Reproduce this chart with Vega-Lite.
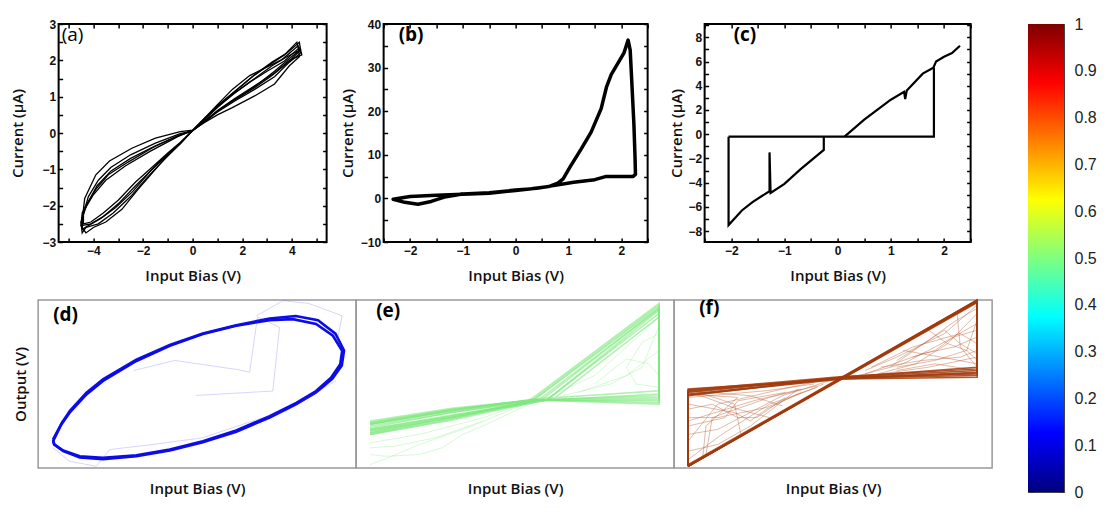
{
"$schema":"https://vega.github.io/schema/vega-lite/v6.json",
"background":"white",
"padding":{"left":9,"top":15,"right":4,"bottom":4},
"config":{
 "axis":{"grid":false,"domain":false,"tickColor":"#000","tickWidth":1.5,"tickSize":-4,"labelPadding":7,"labelFlush":false,"labelOverlap":false,"labelFont":"Liberation Sans","labelFontWeight":"bold","labelFontSize":12,"labelColor":"#111","titleFont":"Open Sans","titleFontWeight":600,"titleFontSize":15,"titleColor":"#111","zindex":1},
 "view":{"stroke":"#000","strokeWidth":2},
 "title":{"font":"Open Sans","fontSize":19,"color":"#000","anchor":"start","frame":"group","baseline":"middle"}
},
"datasets":{
 "a":[
  {"t":1,"i":0,"x":0,"y":0.08},{"t":1,"i":1,"x":0.5,"y":0.3},{"t":1,"i":2,"x":1,"y":0.5},{"t":1,"i":3,"x":1.6,"y":0.7},{"t":1,"i":4,"x":2.5,"y":1.02},{"t":1,"i":5,"x":3.3,"y":1.35},{"t":1,"i":6,"x":3.9,"y":1.85},{"t":1,"i":7,"x":4.3,"y":2.1},{"t":1,"i":8,"x":4.25,"y":2.4},{"t":1,"i":9,"x":3.6,"y":2.02},{"t":1,"i":10,"x":3.0,"y":1.82},{"t":1,"i":11,"x":2.3,"y":1.58},{"t":1,"i":12,"x":1.6,"y":1.2},{"t":1,"i":13,"x":1.0,"y":0.78},{"t":1,"i":14,"x":0.5,"y":0.42},{"t":1,"i":15,"x":0,"y":0.08},{"t":1,"i":16,"x":-0.5,"y":-0.3},{"t":1,"i":17,"x":-1.0,"y":-0.6},{"t":1,"i":18,"x":-1.5,"y":-1.0},{"t":1,"i":19,"x":-2.2,"y":-1.55},{"t":1,"i":20,"x":-2.85,"y":-2.1},{"t":1,"i":21,"x":-3.5,"y":-2.45},{"t":1,"i":22,"x":-4.0,"y":-2.6},{"t":1,"i":23,"x":-4.3,"y":-2.75},{"t":1,"i":24,"x":-4.45,"y":-2.6},{"t":1,"i":25,"x":-4.4,"y":-2.1},{"t":1,"i":26,"x":-4.35,"y":-1.8},{"t":1,"i":27,"x":-3.9,"y":-1.15},{"t":1,"i":28,"x":-3.35,"y":-0.77},{"t":1,"i":29,"x":-2.45,"y":-0.42},{"t":1,"i":30,"x":-1.5,"y":-0.14},{"t":1,"i":31,"x":-0.5,"y":0.04},{"t":1,"i":32,"x":0,"y":0.08},
  {"t":2,"i":0,"x":0,"y":0.06},{"t":2,"i":1,"x":0.5,"y":0.32},{"t":2,"i":2,"x":1,"y":0.58},{"t":2,"i":3,"x":1.7,"y":0.88},{"t":2,"i":4,"x":2.5,"y":1.2},{"t":2,"i":5,"x":3.3,"y":1.55},{"t":2,"i":6,"x":3.9,"y":1.95},{"t":2,"i":7,"x":4.35,"y":2.2},{"t":2,"i":8,"x":4.3,"y":2.35},{"t":2,"i":9,"x":3.7,"y":1.98},{"t":2,"i":10,"x":3.0,"y":1.7},{"t":2,"i":11,"x":2.3,"y":1.4},{"t":2,"i":12,"x":1.6,"y":1.05},{"t":2,"i":13,"x":1.0,"y":0.7},{"t":2,"i":14,"x":0.5,"y":0.38},{"t":2,"i":15,"x":0,"y":0.06},{"t":2,"i":16,"x":-0.5,"y":-0.26},{"t":2,"i":17,"x":-1.0,"y":-0.55},{"t":2,"i":18,"x":-1.6,"y":-0.92},{"t":2,"i":19,"x":-2.3,"y":-1.35},{"t":2,"i":20,"x":-3.0,"y":-1.85},{"t":2,"i":21,"x":-3.6,"y":-2.2},{"t":2,"i":22,"x":-4.1,"y":-2.45},{"t":2,"i":23,"x":-4.4,"y":-2.5},{"t":2,"i":24,"x":-4.4,"y":-2.2},{"t":2,"i":25,"x":-4.2,"y":-1.75},{"t":2,"i":26,"x":-3.8,"y":-1.3},{"t":2,"i":27,"x":-3.3,"y":-0.95},{"t":2,"i":28,"x":-2.5,"y":-0.6},{"t":2,"i":29,"x":-1.5,"y":-0.28},{"t":2,"i":30,"x":-0.5,"y":-0.02},{"t":2,"i":31,"x":0,"y":0.06},
  {"t":3,"i":0,"x":0,"y":0.07},{"t":3,"i":1,"x":0.5,"y":0.34},{"t":3,"i":2,"x":1,"y":0.62},{"t":3,"i":3,"x":1.7,"y":0.95},{"t":3,"i":4,"x":2.5,"y":1.3},{"t":3,"i":5,"x":3.3,"y":1.65},{"t":3,"i":6,"x":3.9,"y":2.0},{"t":3,"i":7,"x":4.4,"y":2.15},{"t":3,"i":8,"x":4.35,"y":2.3},{"t":3,"i":9,"x":3.8,"y":2.1},{"t":3,"i":10,"x":3.2,"y":1.85},{"t":3,"i":11,"x":2.5,"y":1.5},{"t":3,"i":12,"x":1.7,"y":1.1},{"t":3,"i":13,"x":1.0,"y":0.72},{"t":3,"i":14,"x":0.5,"y":0.4},{"t":3,"i":15,"x":0,"y":0.07},{"t":3,"i":16,"x":-0.5,"y":-0.28},{"t":3,"i":17,"x":-1.0,"y":-0.58},{"t":3,"i":18,"x":-1.7,"y":-1.05},{"t":3,"i":19,"x":-2.4,"y":-1.6},{"t":3,"i":20,"x":-3.1,"y":-2.05},{"t":3,"i":21,"x":-3.7,"y":-2.35},{"t":3,"i":22,"x":-4.2,"y":-2.55},{"t":3,"i":23,"x":-4.45,"y":-2.65},{"t":3,"i":24,"x":-4.45,"y":-2.35},{"t":3,"i":25,"x":-4.25,"y":-1.95},{"t":3,"i":26,"x":-3.85,"y":-1.45},{"t":3,"i":27,"x":-3.3,"y":-1.05},{"t":3,"i":28,"x":-2.5,"y":-0.7},{"t":3,"i":29,"x":-1.5,"y":-0.35},{"t":3,"i":30,"x":-0.5,"y":-0.05},{"t":3,"i":31,"x":0,"y":0.07},
  {"t":4,"i":0,"x":0,"y":0.06},{"t":4,"i":1,"x":0.5,"y":0.33},{"t":4,"i":2,"x":1,"y":0.6},{"t":4,"i":3,"x":1.7,"y":0.92},{"t":4,"i":4,"x":2.5,"y":1.25},{"t":4,"i":5,"x":3.2,"y":1.58},{"t":4,"i":6,"x":3.85,"y":1.95},{"t":4,"i":7,"x":4.3,"y":2.25},{"t":4,"i":8,"x":4.2,"y":2.5},{"t":4,"i":9,"x":3.7,"y":2.15},{"t":4,"i":10,"x":3.1,"y":1.88},{"t":4,"i":11,"x":2.4,"y":1.55},{"t":4,"i":12,"x":1.7,"y":1.15},{"t":4,"i":13,"x":1.0,"y":0.75},{"t":4,"i":14,"x":0.5,"y":0.4},{"t":4,"i":15,"x":0,"y":0.06},{"t":4,"i":16,"x":-0.5,"y":-0.27},{"t":4,"i":17,"x":-1.0,"y":-0.57},{"t":4,"i":18,"x":-1.6,"y":-0.98},{"t":4,"i":19,"x":-2.3,"y":-1.45},{"t":4,"i":20,"x":-3.0,"y":-1.95},{"t":4,"i":21,"x":-3.6,"y":-2.3},{"t":4,"i":22,"x":-4.1,"y":-2.5},{"t":4,"i":23,"x":-4.5,"y":-2.55},{"t":4,"i":24,"x":-4.45,"y":-2.2},{"t":4,"i":25,"x":-4.3,"y":-2.0},{"t":4,"i":26,"x":-3.9,"y":-1.55},{"t":4,"i":27,"x":-3.4,"y":-1.15},{"t":4,"i":28,"x":-2.6,"y":-0.8},{"t":4,"i":29,"x":-1.6,"y":-0.4},{"t":4,"i":30,"x":-0.6,"y":-0.08},{"t":4,"i":31,"x":0,"y":0.06},
  {"t":5,"i":0,"x":0,"y":0.07},{"t":5,"i":1,"x":0.6,"y":0.38},{"t":5,"i":2,"x":1.2,"y":0.7},{"t":5,"i":3,"x":1.9,"y":1.0},{"t":5,"i":4,"x":2.6,"y":1.33},{"t":5,"i":5,"x":3.3,"y":1.7},{"t":5,"i":6,"x":3.9,"y":2.05},{"t":5,"i":7,"x":4.35,"y":2.3},{"t":5,"i":8,"x":4.3,"y":2.5},{"t":5,"i":9,"x":3.8,"y":2.2},{"t":5,"i":10,"x":3.2,"y":1.95},{"t":5,"i":11,"x":2.5,"y":1.6},{"t":5,"i":12,"x":1.8,"y":1.2},{"t":5,"i":13,"x":1.1,"y":0.8},{"t":5,"i":14,"x":0.5,"y":0.42},{"t":5,"i":15,"x":0,"y":0.07},{"t":5,"i":16,"x":-0.5,"y":-0.3},{"t":5,"i":17,"x":-1.1,"y":-0.7},{"t":5,"i":18,"x":-1.8,"y":-1.2},{"t":5,"i":19,"x":-2.5,"y":-1.75},{"t":5,"i":20,"x":-3.2,"y":-2.2},{"t":5,"i":21,"x":-3.8,"y":-2.5},{"t":5,"i":22,"x":-4.3,"y":-2.6},{"t":5,"i":23,"x":-4.45,"y":-2.75},{"t":5,"i":24,"x":-4.5,"y":-2.45},{"t":5,"i":25,"x":-4.35,"y":-2.1},{"t":5,"i":26,"x":-4.0,"y":-1.7},{"t":5,"i":27,"x":-3.5,"y":-1.3},{"t":5,"i":28,"x":-2.7,"y":-0.9},{"t":5,"i":29,"x":-1.7,"y":-0.5},{"t":5,"i":30,"x":-0.6,"y":-0.1},{"t":5,"i":31,"x":0,"y":0.07}
 ],
 "b":[
  {"t":1,"i":0,"x":-1.0,"y":1.0},{"t":1,"i":1,"x":-0.5,"y":1.3},{"t":1,"i":2,"x":0,"y":1.9},{"t":1,"i":3,"x":0.4,"y":2.3},{"t":1,"i":4,"x":0.65,"y":2.8},{"t":1,"i":5,"x":0.8,"y":3.5},{"t":1,"i":6,"x":0.9,"y":4.5},{"t":1,"i":7,"x":1.04,"y":7.4},{"t":1,"i":8,"x":1.24,"y":11.3},{"t":1,"i":9,"x":1.43,"y":15.2},{"t":1,"i":10,"x":1.62,"y":20.6},{"t":1,"i":11,"x":1.72,"y":25.5},{"t":1,"i":12,"x":1.81,"y":28.4},{"t":1,"i":13,"x":2.05,"y":33.3},{"t":1,"i":14,"x":2.13,"y":36.3},{"t":1,"i":15,"x":2.17,"y":34.0},{"t":1,"i":16,"x":2.2,"y":26.8},{"t":1,"i":17,"x":2.24,"y":17.0},{"t":1,"i":18,"x":2.26,"y":10.0},{"t":1,"i":19,"x":2.27,"y":5.5},{"t":1,"i":20,"x":2.22,"y":5.0},{"t":1,"i":21,"x":1.95,"y":5.0},{"t":1,"i":22,"x":1.7,"y":5.0},{"t":1,"i":23,"x":1.5,"y":4.3},{"t":1,"i":24,"x":1.1,"y":3.7},{"t":1,"i":25,"x":0.6,"y":2.7},{"t":1,"i":26,"x":0.3,"y":2.2},{"t":1,"i":27,"x":0,"y":1.8},{"t":1,"i":28,"x":-0.5,"y":1.2},{"t":1,"i":29,"x":-1.0,"y":0.95},{"t":1,"i":30,"x":-1.5,"y":0.75},{"t":1,"i":31,"x":-2.0,"y":0.45},{"t":1,"i":32,"x":-2.32,"y":-0.2},{"t":1,"i":33,"x":-2.1,"y":-0.9},{"t":1,"i":34,"x":-1.85,"y":-1.35},{"t":1,"i":35,"x":-1.6,"y":-0.7},{"t":1,"i":36,"x":-1.35,"y":0.3},{"t":1,"i":37,"x":-1.0,"y":1.0}
 ],
 "c":[
  {"t":1,"i":0,"x":-2.05,"y":-0.2},{"t":1,"i":1,"x":1.81,"y":-0.2},{"t":1,"i":2,"x":1.81,"y":5.5},
  {"t":2,"i":0,"x":0.13,"y":-0.2},{"t":2,"i":1,"x":0.5,"y":1.2},{"t":2,"i":2,"x":1.0,"y":2.85},{"t":2,"i":3,"x":1.25,"y":3.5},{"t":2,"i":4,"x":1.27,"y":2.9},{"t":2,"i":5,"x":1.3,"y":3.6},{"t":2,"i":6,"x":1.6,"y":5.0},{"t":2,"i":7,"x":1.8,"y":5.5},{"t":2,"i":8,"x":1.85,"y":6.0},{"t":2,"i":9,"x":2.0,"y":6.4},{"t":2,"i":10,"x":2.15,"y":6.7},{"t":2,"i":11,"x":2.3,"y":7.3},
  {"t":3,"i":0,"x":-2.05,"y":-0.2},{"t":3,"i":1,"x":-2.05,"y":-7.5},{"t":3,"i":2,"x":-1.8,"y":-6.3},{"t":3,"i":3,"x":-1.6,"y":-5.6},{"t":3,"i":4,"x":-1.28,"y":-4.7},{"t":3,"i":5,"x":-1.28,"y":-1.5},{"t":3,"i":6,"x":-1.26,"y":-4.85},{"t":3,"i":7,"x":-1.0,"y":-4.1},{"t":3,"i":8,"x":-0.7,"y":-2.9},{"t":3,"i":9,"x":-0.26,"y":-1.3},{"t":3,"i":10,"x":-0.26,"y":-0.2}
 ],
 "dm":[
  {"t":1,"i":0,"x":0.047,"y":0.159},{"t":1,"i":1,"x":0.073,"y":0.259},{"t":1,"i":2,"x":0.099,"y":0.329},{"t":1,"i":3,"x":0.152,"y":0.438},{"t":1,"i":4,"x":0.204,"y":0.518},{"t":1,"i":5,"x":0.309,"y":0.637},{"t":1,"i":6,"x":0.414,"y":0.727},{"t":1,"i":7,"x":0.518,"y":0.797},{"t":1,"i":8,"x":0.623,"y":0.847},{"t":1,"i":9,"x":0.728,"y":0.88},{"t":1,"i":10,"x":0.801,"y":0.886},{"t":1,"i":11,"x":0.874,"y":0.857},{"t":1,"i":12,"x":0.927,"y":0.787},{"t":1,"i":13,"x":0.956,"y":0.697},{"t":1,"i":14,"x":0.95,"y":0.618},{"t":1,"i":15,"x":0.921,"y":0.538},{"t":1,"i":16,"x":0.874,"y":0.458},{"t":1,"i":17,"x":0.812,"y":0.388},{"t":1,"i":18,"x":0.728,"y":0.309},{"t":1,"i":19,"x":0.623,"y":0.223},{"t":1,"i":20,"x":0.518,"y":0.159},{"t":1,"i":21,"x":0.414,"y":0.11},{"t":1,"i":22,"x":0.309,"y":0.076},{"t":1,"i":23,"x":0.204,"y":0.06},{"t":1,"i":24,"x":0.131,"y":0.07},{"t":1,"i":25,"x":0.079,"y":0.104},{"t":1,"i":26,"x":0.052,"y":0.139},{"t":1,"i":27,"x":0.047,"y":0.159},
  {"t":2,"i":0,"x":0.047,"y":0.17},{"t":2,"i":1,"x":0.075,"y":0.27},{"t":2,"i":2,"x":0.1,"y":0.34},{"t":2,"i":3,"x":0.152,"y":0.448},{"t":2,"i":4,"x":0.204,"y":0.528},{"t":2,"i":5,"x":0.309,"y":0.645},{"t":2,"i":6,"x":0.414,"y":0.733},{"t":2,"i":7,"x":0.518,"y":0.8},{"t":2,"i":8,"x":0.623,"y":0.85},{"t":2,"i":9,"x":0.728,"y":0.89},{"t":2,"i":10,"x":0.81,"y":0.905},{"t":2,"i":11,"x":0.88,"y":0.88},{"t":2,"i":12,"x":0.935,"y":0.8},{"t":2,"i":13,"x":0.962,"y":0.7},{"t":2,"i":14,"x":0.955,"y":0.61},{"t":2,"i":15,"x":0.925,"y":0.53},{"t":2,"i":16,"x":0.874,"y":0.45},{"t":2,"i":17,"x":0.812,"y":0.38},{"t":2,"i":18,"x":0.728,"y":0.3},{"t":2,"i":19,"x":0.623,"y":0.216},{"t":2,"i":20,"x":0.518,"y":0.153},{"t":2,"i":21,"x":0.414,"y":0.104},{"t":2,"i":22,"x":0.309,"y":0.07},{"t":2,"i":23,"x":0.204,"y":0.053},{"t":2,"i":24,"x":0.131,"y":0.063},{"t":2,"i":25,"x":0.079,"y":0.1},{"t":2,"i":26,"x":0.05,"y":0.14},{"t":2,"i":27,"x":0.047,"y":0.17}
 ],
 "df":[
  {"t":3,"i":0,"x":0.497,"y":0.432},{"t":3,"i":1,"x":0.738,"y":0.458},{"t":3,"i":2,"x":0.759,"y":0.837},{"t":3,"i":3,"x":0.69,"y":0.9},{"t":3,"i":4,"x":0.665,"y":0.57},{"t":3,"i":5,"x":0.63,"y":0.585},{"t":3,"i":6,"x":0.43,"y":0.64},{"t":3,"i":7,"x":0.3,"y":0.58},
  {"t":4,"i":0,"x":0.686,"y":0.906},{"t":4,"i":1,"x":0.77,"y":0.996},{"t":4,"i":2,"x":0.85,"y":0.98},{"t":4,"i":3,"x":0.956,"y":0.906},{"t":4,"i":4,"x":0.94,"y":0.75},
  {"t":5,"i":0,"x":0.047,"y":0.12},{"t":5,"i":1,"x":0.099,"y":0.04},{"t":5,"i":2,"x":0.183,"y":0.01},{"t":5,"i":3,"x":0.225,"y":0.11},{"t":5,"i":4,"x":0.361,"y":0.14},{"t":5,"i":5,"x":0.518,"y":0.18},{"t":5,"i":6,"x":0.675,"y":0.28},{"t":5,"i":7,"x":0.78,"y":0.34},{"t":5,"i":8,"x":0.937,"y":0.52}
 ],
 "em":[
  {"t":1,"i":0,"x":0.044,"y":0.2},{"t":1,"i":1,"x":0.3,"y":0.29},{"t":1,"i":2,"x":0.54,"y":0.395},{"t":1,"i":3,"x":0.953,"y":0.98},{"t":1,"i":4,"x":0.953,"y":0.38},{"t":1,"i":5,"x":0.556,"y":0.405},{"t":1,"i":6,"x":0.3,"y":0.35},{"t":1,"i":7,"x":0.044,"y":0.27},
  {"t":2,"i":0,"x":0.044,"y":0.21},{"t":2,"i":1,"x":0.3,"y":0.3},{"t":2,"i":2,"x":0.556,"y":0.4},{"t":2,"i":3,"x":0.953,"y":0.96},{"t":2,"i":4,"x":0.953,"y":0.4},{"t":2,"i":5,"x":0.556,"y":0.405},{"t":2,"i":6,"x":0.3,"y":0.34},{"t":2,"i":7,"x":0.044,"y":0.26},
  {"t":3,"i":0,"x":0.044,"y":0.22},{"t":3,"i":1,"x":0.3,"y":0.31},{"t":3,"i":2,"x":0.57,"y":0.4},{"t":3,"i":3,"x":0.953,"y":0.95},{"t":3,"i":4,"x":0.953,"y":0.42},{"t":3,"i":5,"x":0.556,"y":0.405},{"t":3,"i":6,"x":0.3,"y":0.345},{"t":3,"i":7,"x":0.044,"y":0.27},
  {"t":4,"i":0,"x":0.044,"y":0.23},{"t":4,"i":1,"x":0.3,"y":0.31},{"t":4,"i":2,"x":0.6,"y":0.405},{"t":4,"i":3,"x":0.953,"y":0.92},{"t":4,"i":4,"x":0.953,"y":0.44},{"t":4,"i":5,"x":0.556,"y":0.4},{"t":4,"i":6,"x":0.3,"y":0.33},{"t":4,"i":7,"x":0.044,"y":0.25},
  {"t":5,"i":0,"x":0.044,"y":0.21},{"t":5,"i":1,"x":0.3,"y":0.3},{"t":5,"i":2,"x":0.62,"y":0.41},{"t":5,"i":3,"x":0.953,"y":0.9},{"t":5,"i":4,"x":0.953,"y":0.46},{"t":5,"i":5,"x":0.556,"y":0.41},{"t":5,"i":6,"x":0.3,"y":0.34},{"t":5,"i":7,"x":0.044,"y":0.26},
  {"t":6,"i":0,"x":0.044,"y":0.22},{"t":6,"i":1,"x":0.3,"y":0.3},{"t":6,"i":2,"x":0.55,"y":0.398},{"t":6,"i":3,"x":0.953,"y":0.97},{"t":6,"i":4,"x":0.953,"y":0.39},{"t":6,"i":5,"x":0.556,"y":0.405},{"t":6,"i":6,"x":0.3,"y":0.355},{"t":6,"i":7,"x":0.044,"y":0.28},
  {"t":7,"i":0,"x":0.044,"y":0.2},{"t":7,"i":1,"x":0.3,"y":0.285},{"t":7,"i":2,"x":0.58,"y":0.4},{"t":7,"i":3,"x":0.953,"y":0.95},{"t":7,"i":4,"x":0.953,"y":0.41},{"t":7,"i":5,"x":0.556,"y":0.4},{"t":7,"i":6,"x":0.3,"y":0.33},{"t":7,"i":7,"x":0.044,"y":0.24},
  {"t":8,"i":0,"x":0.044,"y":0.23},{"t":8,"i":1,"x":0.3,"y":0.315},{"t":8,"i":2,"x":0.6,"y":0.405},{"t":8,"i":3,"x":0.953,"y":0.94},{"t":8,"i":4,"x":0.953,"y":0.43},{"t":8,"i":5,"x":0.556,"y":0.405},{"t":8,"i":6,"x":0.3,"y":0.345},{"t":8,"i":7,"x":0.044,"y":0.26}
 ],
 "ef":[
  {"t":11,"i":0,"x":0.044,"y":0.02},{"t":11,"i":1,"x":0.1,"y":0.06},{"t":11,"i":2,"x":0.2,"y":0.14},{"t":11,"i":3,"x":0.35,"y":0.24},{"t":11,"i":4,"x":0.556,"y":0.4},
  {"t":12,"i":0,"x":0.044,"y":0.08},{"t":12,"i":1,"x":0.094,"y":0.07},{"t":12,"i":2,"x":0.2,"y":0.08},{"t":12,"i":3,"x":0.27,"y":0.12},{"t":12,"i":4,"x":0.336,"y":0.2},{"t":12,"i":5,"x":0.41,"y":0.26},{"t":12,"i":6,"x":0.556,"y":0.39},
  {"t":13,"i":0,"x":0.6,"y":0.42},{"t":13,"i":1,"x":0.75,"y":0.55},{"t":13,"i":2,"x":0.85,"y":0.72},{"t":13,"i":3,"x":0.953,"y":0.9},
  {"t":14,"i":0,"x":0.65,"y":0.43},{"t":14,"i":1,"x":0.8,"y":0.5},{"t":14,"i":2,"x":0.9,"y":0.6},{"t":14,"i":3,"x":0.953,"y":0.85},
  {"t":15,"i":0,"x":0.7,"y":0.45},{"t":15,"i":1,"x":0.85,"y":0.55},{"t":15,"i":2,"x":0.953,"y":0.7},
  {"t":16,"i":0,"x":0.953,"y":0.8},{"t":16,"i":1,"x":0.9,"y":0.75},{"t":16,"i":2,"x":0.85,"y":0.6},{"t":16,"i":3,"x":0.88,"y":0.5},{"t":16,"i":4,"x":0.953,"y":0.48},
  {"t":17,"i":0,"x":0.044,"y":0.15},{"t":17,"i":1,"x":0.2,"y":0.2},{"t":17,"i":2,"x":0.4,"y":0.3},{"t":17,"i":3,"x":0.556,"y":0.4},
  {"t":18,"i":0,"x":0.044,"y":0.12},{"t":18,"i":1,"x":0.12,"y":0.13},{"t":18,"i":2,"x":0.25,"y":0.18},{"t":18,"i":3,"x":0.4,"y":0.28},
  {"t":19,"i":0,"x":0.75,"y":0.5},{"t":19,"i":1,"x":0.85,"y":0.65},{"t":19,"i":2,"x":0.92,"y":0.62},{"t":19,"i":3,"x":0.953,"y":0.55}
 ],
 "fm":[
  {"t":1,"i":0,"x":0.044,"y":0.01},{"t":1,"i":1,"x":0.953,"y":1.0},{"t":1,"i":2,"x":0.953,"y":0.54},{"t":1,"i":3,"x":0.53,"y":0.53},{"t":1,"i":4,"x":0.044,"y":0.47},{"t":1,"i":5,"x":0.044,"y":0.01},
  {"t":2,"i":0,"x":0.044,"y":0.012},{"t":2,"i":1,"x":0.953,"y":0.995},{"t":2,"i":2,"x":0.953,"y":0.55},{"t":2,"i":3,"x":0.53,"y":0.535},{"t":2,"i":4,"x":0.044,"y":0.46},{"t":2,"i":5,"x":0.044,"y":0.012},
  {"t":3,"i":0,"x":0.044,"y":0.015},{"t":3,"i":1,"x":0.953,"y":0.99},{"t":3,"i":2,"x":0.953,"y":0.56},{"t":3,"i":3,"x":0.53,"y":0.54},{"t":3,"i":4,"x":0.044,"y":0.45},{"t":3,"i":5,"x":0.044,"y":0.015},
  {"t":4,"i":0,"x":0.044,"y":0.01},{"t":4,"i":1,"x":0.953,"y":0.985},{"t":4,"i":2,"x":0.953,"y":0.57},{"t":4,"i":3,"x":0.53,"y":0.535},{"t":4,"i":4,"x":0.044,"y":0.44},{"t":4,"i":5,"x":0.044,"y":0.01},
  {"t":5,"i":0,"x":0.044,"y":0.02},{"t":5,"i":1,"x":0.953,"y":1.0},{"t":5,"i":2,"x":0.953,"y":0.58},{"t":5,"i":3,"x":0.53,"y":0.54},{"t":5,"i":4,"x":0.044,"y":0.43},{"t":5,"i":5,"x":0.044,"y":0.02},
  {"t":6,"i":0,"x":0.044,"y":0.01},{"t":6,"i":1,"x":0.953,"y":0.99},{"t":6,"i":2,"x":0.953,"y":0.59},{"t":6,"i":3,"x":0.53,"y":0.545},{"t":6,"i":4,"x":0.044,"y":0.465},{"t":6,"i":5,"x":0.044,"y":0.01},
  {"t":7,"i":0,"x":0.044,"y":0.015},{"t":7,"i":1,"x":0.953,"y":1.0},{"t":7,"i":2,"x":0.953,"y":0.6},{"t":7,"i":3,"x":0.53,"y":0.54},{"t":7,"i":4,"x":0.044,"y":0.455},{"t":7,"i":5,"x":0.044,"y":0.015},
  {"t":8,"i":0,"x":0.044,"y":0.01},{"t":8,"i":1,"x":0.953,"y":0.995},{"t":8,"i":2,"x":0.953,"y":0.565},{"t":8,"i":3,"x":0.53,"y":0.53},{"t":8,"i":4,"x":0.044,"y":0.435},{"t":8,"i":5,"x":0.044,"y":0.01}
 ],
 "ff":[
  {"t":11,"i":0,"x":0.58,"y":0.55},{"t":11,"i":1,"x":0.72,"y":0.62},{"t":11,"i":2,"x":0.85,"y":0.75},{"t":11,"i":3,"x":0.953,"y":0.86},
  {"t":12,"i":0,"x":0.6,"y":0.56},{"t":12,"i":1,"x":0.78,"y":0.68},{"t":12,"i":2,"x":0.88,"y":0.72},{"t":12,"i":3,"x":0.953,"y":0.78},
  {"t":13,"i":0,"x":0.68,"y":0.6},{"t":13,"i":1,"x":0.8,"y":0.76},{"t":13,"i":2,"x":0.88,"y":0.87},{"t":13,"i":3,"x":0.953,"y":0.95},
  {"t":14,"i":0,"x":0.953,"y":0.92},{"t":14,"i":1,"x":0.86,"y":0.74},{"t":14,"i":2,"x":0.76,"y":0.62},{"t":14,"i":3,"x":0.64,"y":0.56},
  {"t":15,"i":0,"x":0.953,"y":0.68},{"t":15,"i":1,"x":0.9,"y":0.74},{"t":15,"i":2,"x":0.85,"y":0.82},{"t":15,"i":3,"x":0.8,"y":0.76},{"t":15,"i":4,"x":0.7,"y":0.64},
  {"t":16,"i":0,"x":0.72,"y":0.7},{"t":16,"i":1,"x":0.84,"y":0.66},{"t":16,"i":2,"x":0.953,"y":0.62},
  {"t":17,"i":0,"x":0.953,"y":0.66},{"t":17,"i":1,"x":0.8,"y":0.6},{"t":17,"i":2,"x":0.65,"y":0.56},
  {"t":18,"i":0,"x":0.89,"y":0.92},{"t":18,"i":1,"x":0.9,"y":0.72},{"t":18,"i":2,"x":0.953,"y":0.6},
  {"t":19,"i":0,"x":0.62,"y":0.6},{"t":19,"i":1,"x":0.75,"y":0.72},{"t":19,"i":2,"x":0.9,"y":0.8},{"t":19,"i":3,"x":0.953,"y":0.74},
  {"t":20,"i":0,"x":0.953,"y":0.88},{"t":20,"i":1,"x":0.92,"y":0.7},{"t":20,"i":2,"x":0.82,"y":0.64},{"t":20,"i":3,"x":0.7,"y":0.6},
  {"t":21,"i":0,"x":0.49,"y":0.52},{"t":21,"i":1,"x":0.34,"y":0.43},{"t":21,"i":2,"x":0.137,"y":0.23},{"t":21,"i":3,"x":0.044,"y":0.2},
  {"t":22,"i":0,"x":0.47,"y":0.5},{"t":22,"i":1,"x":0.29,"y":0.36},{"t":22,"i":2,"x":0.137,"y":0.3},{"t":22,"i":3,"x":0.044,"y":0.3},
  {"t":23,"i":0,"x":0.39,"y":0.47},{"t":23,"i":1,"x":0.24,"y":0.25},{"t":23,"i":2,"x":0.137,"y":0.14},{"t":23,"i":3,"x":0.044,"y":0.1},
  {"t":24,"i":0,"x":0.044,"y":0.16},{"t":24,"i":1,"x":0.137,"y":0.38},{"t":24,"i":2,"x":0.34,"y":0.47},{"t":24,"i":3,"x":0.44,"y":0.51},
  {"t":25,"i":0,"x":0.044,"y":0.38},{"t":25,"i":1,"x":0.19,"y":0.33},{"t":25,"i":2,"x":0.24,"y":0.28},{"t":25,"i":3,"x":0.29,"y":0.35},{"t":25,"i":4,"x":0.4,"y":0.45},
  {"t":26,"i":0,"x":0.34,"y":0.37},{"t":26,"i":1,"x":0.24,"y":0.43},{"t":26,"i":2,"x":0.044,"y":0.46},
  {"t":27,"i":0,"x":0.044,"y":0.42},{"t":27,"i":1,"x":0.29,"y":0.46},{"t":27,"i":2,"x":0.44,"y":0.5},
  {"t":28,"i":0,"x":0.21,"y":0.2},{"t":28,"i":1,"x":0.19,"y":0.38},{"t":28,"i":2,"x":0.044,"y":0.47},
  {"t":29,"i":0,"x":0.1,"y":0.08},{"t":29,"i":1,"x":0.12,"y":0.3},{"t":29,"i":2,"x":0.3,"y":0.42},{"t":29,"i":3,"x":0.45,"y":0.49},
  {"t":30,"i":0,"x":0.044,"y":0.25},{"t":30,"i":1,"x":0.16,"y":0.3},{"t":30,"i":2,"x":0.2,"y":0.4},{"t":30,"i":3,"x":0.35,"y":0.45},
  {"t":31,"i":0,"x":0.953,"y":0.97},{"t":31,"i":1,"x":0.85,"y":0.8},{"t":31,"i":2,"x":0.7,"y":0.66},{"t":31,"i":3,"x":0.6,"y":0.58},
  {"t":32,"i":0,"x":0.65,"y":0.6},{"t":32,"i":1,"x":0.78,"y":0.64},{"t":32,"i":2,"x":0.9,"y":0.66},{"t":32,"i":3,"x":0.953,"y":0.7},
  {"t":33,"i":0,"x":0.953,"y":0.82},{"t":33,"i":1,"x":0.88,"y":0.78},{"t":33,"i":2,"x":0.82,"y":0.7},{"t":33,"i":3,"x":0.75,"y":0.66},
  {"t":34,"i":0,"x":0.8,"y":0.82},{"t":34,"i":1,"x":0.86,"y":0.74},{"t":34,"i":2,"x":0.92,"y":0.7},{"t":34,"i":3,"x":0.953,"y":0.64},
  {"t":35,"i":0,"x":0.7,"y":0.58},{"t":35,"i":1,"x":0.82,"y":0.62},{"t":35,"i":2,"x":0.953,"y":0.58},
  {"t":36,"i":0,"x":0.044,"y":0.05},{"t":36,"i":1,"x":0.15,"y":0.2},{"t":36,"i":2,"x":0.3,"y":0.38},{"t":36,"i":3,"x":0.45,"y":0.48},
  {"t":37,"i":0,"x":0.044,"y":0.35},{"t":37,"i":1,"x":0.12,"y":0.38},{"t":37,"i":2,"x":0.2,"y":0.3},{"t":37,"i":3,"x":0.26,"y":0.3},{"t":37,"i":4,"x":0.35,"y":0.42},
  {"t":38,"i":0,"x":0.09,"y":0.06},{"t":38,"i":1,"x":0.1,"y":0.25},{"t":38,"i":2,"x":0.2,"y":0.42},{"t":38,"i":3,"x":0.044,"y":0.44},
  {"t":39,"i":0,"x":0.044,"y":0.28},{"t":39,"i":1,"x":0.25,"y":0.4},{"t":39,"i":2,"x":0.4,"y":0.47},
  {"t":40,"i":0,"x":0.3,"y":0.3},{"t":40,"i":1,"x":0.2,"y":0.35},{"t":40,"i":2,"x":0.1,"y":0.42},{"t":40,"i":3,"x":0.044,"y":0.45}
 ]
},
"spacing":34,
"hconcat":[
 {"vconcat":[
  {"spacing":57,"bounds":"flush","hconcat":[
   {"width":268,"height":218,
    "title":{"text":"(a)","fontWeight":"normal","offset":-27,"dx":3},
    "layer":[
     {"data":{"name":"a"},"mark":{"type":"line","color":"#000","strokeWidth":1.3},
      "encoding":{
       "x":{"field":"x","type":"quantitative","scale":{"domain":[-5.4,5.4],"nice":false,"zero":false},"axis":{"orient":"bottom","values":[-5,-4,-3,-2,-1,0,1,2,3,4,5],"format":"~g","labelExpr":"datum.value % 2 == 0 ? datum.label : ''","title":"Input Bias (V)","titlePadding":12}},
       "y":{"field":"y","type":"quantitative","scale":{"domain":[-3,3],"nice":false},"axis":{"orient":"left","values":[-3,-2.5,-2,-1.5,-1,-0.5,0,0.5,1,1.5,2,2.5,3],"format":"~g","labelExpr":"datum.value % 1 == 0 ? datum.label : ''","title":"Current (µA)","titlePadding":16}},
       "detail":{"field":"t"},"order":{"field":"i"}}},
     {"data":{"name":"a"},"mark":{"type":"point","opacity":0},
      "encoding":{
       "x":{"field":"x","type":"quantitative","axis":{"orient":"top","values":[-5,-4,-3,-2,-1,0,1,2,3,4,5],"labels":false,"title":null}},
       "y":{"field":"y","type":"quantitative","axis":{"orient":"right","values":[-3,-2.5,-2,-1.5,-1,-0.5,0,0.5,1,1.5,2,2.5,3],"labels":false,"title":null}}}}
    ],
    "resolve":{"axis":{"x":"independent","y":"independent"}}},
   {"width":264,"height":218,
    "title":{"text":"(b)","fontWeight":"bold","offset":-27,"dx":15},
    "layer":[
     {"data":{"name":"b"},"mark":{"type":"line","color":"#000","strokeWidth":3.5,"strokeJoin":"round"},
      "encoding":{
       "x":{"field":"x","type":"quantitative","scale":{"domain":[-2.5,2.5],"nice":false,"zero":false},"axis":{"orient":"bottom","values":[-2.5,-2,-1.5,-1,-0.5,0,0.5,1,1.5,2,2.5],"format":"~g","labelExpr":"datum.value % 1 == 0 ? datum.label : ''","title":"Input Bias (V)","titlePadding":12}},
       "y":{"field":"y","type":"quantitative","scale":{"domain":[-10,40],"nice":false},"axis":{"orient":"left","values":[-10,-5,0,5,10,15,20,25,30,35,40],"format":"~g","labelExpr":"datum.value % 10 == 0 ? datum.label : ''","title":"Current (µA)","titlePadding":5}},
       "detail":{"field":"t"},"order":{"field":"i"}}},
     {"data":{"name":"b"},"mark":{"type":"point","opacity":0},
      "encoding":{
       "x":{"field":"x","type":"quantitative","axis":{"orient":"top","values":[-2.5,-2,-1.5,-1,-0.5,0,0.5,1,1.5,2,2.5],"labels":false,"title":null}},
       "y":{"field":"y","type":"quantitative","axis":{"orient":"right","values":[-10,-5,0,5,10,15,20,25,30,35,40],"labels":false,"title":null}}}}
    ],
    "resolve":{"axis":{"x":"independent","y":"independent"}}},
   {"width":266,"height":218,
    "title":{"text":"(c)","fontWeight":"bold","offset":-26,"dx":29},
    "layer":[
     {"data":{"name":"c"},"mark":{"type":"line","color":"#000","strokeWidth":2.2},
      "encoding":{
       "x":{"field":"x","type":"quantitative","scale":{"domain":[-2.5,2.5],"nice":false,"zero":false},"axis":{"orient":"bottom","values":[-2.5,-2,-1.5,-1,-0.5,0,0.5,1,1.5,2,2.5],"format":"~g","labelExpr":"datum.value % 1 == 0 ? datum.label : ''","title":"Input Bias (V)","titlePadding":12}},
       "y":{"field":"y","type":"quantitative","scale":{"domain":[-8.9,9.1],"nice":false},"axis":{"orient":"left","values":[-8,-7,-6,-5,-4,-3,-2,-1,0,1,2,3,4,5,6,7,8,9],"format":"~g","labelExpr":"datum.value % 2 == 0 ? datum.label : ''","title":"Current (µA)","titlePadding":3}},
       "detail":{"field":"t"},"order":{"field":"i"}}},
     {"data":{"name":"c"},"mark":{"type":"point","opacity":0},
      "encoding":{
       "x":{"field":"x","type":"quantitative","axis":{"orient":"top","values":[-2.5,-2,-1.5,-1,-0.5,0,0.5,1,1.5,2,2.5],"labels":false,"title":null}},
       "y":{"field":"y","type":"quantitative","axis":{"orient":"right","values":[-8,-7,-6,-5,-4,-3,-2,-1,0,1,2,3,4,5,6,7,8,9],"labels":false,"title":null}}}}
    ],
    "resolve":{"axis":{"x":"independent","y":"independent"}}}
  ]},
  {"spacing":0,"bounds":"flush","hconcat":[
   {"width":318,"height":168,
    "view":{"stroke":"#999","strokeWidth":1.5},
    "title":{"text":"(d)","fontWeight":"bold","offset":-26,"dx":15},
    "layer":[
     {"data":{"name":"dm"},"mark":{"type":"line","color":"#0c0ce8","strokeWidth":2.6},
      "encoding":{
       "x":{"field":"x","type":"quantitative","scale":{"domain":[0,1],"nice":false},"axis":{"labels":false,"ticks":false,"title":"Input Bias (V)","titlePadding":13}},
       "y":{"field":"y","type":"quantitative","scale":{"domain":[0,1],"nice":false},"axis":{"labels":false,"ticks":false,"title":"Output (V)","titlePadding":10}},
       "detail":{"field":"t"},"order":{"field":"i"}}},
     {"data":{"name":"df"},"mark":{"type":"line","color":"#3030f0","strokeWidth":1,"opacity":0.2},
      "encoding":{
       "x":{"field":"x","type":"quantitative"},
       "y":{"field":"y","type":"quantitative"},
       "detail":{"field":"t"},"order":{"field":"i"}}}
    ]},
   {"width":318,"height":168,
    "view":{"stroke":"#999","strokeWidth":1.5},
    "title":{"text":"(e)","fontWeight":"bold","offset":-21,"dx":20},
    "layer":[
     {"data":{"name":"ef"},"mark":{"type":"line","color":"#9af09a","strokeWidth":1,"opacity":0.4},
      "encoding":{
       "x":{"field":"x","type":"quantitative","scale":{"domain":[0,1],"nice":false},"axis":{"labels":false,"ticks":false,"title":"Input Bias (V)","titlePadding":13}},
       "y":{"field":"y","type":"quantitative","scale":{"domain":[0,1],"nice":false},"axis":null},
       "detail":{"field":"t"},"order":{"field":"i"}}},
     {"data":{"name":"em"},"mark":{"type":"line","color":"#7fe87f","strokeWidth":1.6,"opacity":0.6},
      "encoding":{
       "x":{"field":"x","type":"quantitative"},
       "y":{"field":"y","type":"quantitative"},
       "detail":{"field":"t"},"order":{"field":"i"}}}
    ]},
   {"width":318,"height":168,
    "view":{"stroke":"#999","strokeWidth":1.5},
    "title":{"text":"(f)","fontWeight":"bold","offset":-21,"dx":25},
    "layer":[
     {"data":{"name":"ff"},"mark":{"type":"line","color":"#b4542a","strokeWidth":0.9,"opacity":0.45},
      "encoding":{
       "x":{"field":"x","type":"quantitative","scale":{"domain":[0,1],"nice":false},"axis":{"labels":false,"ticks":false,"title":"Input Bias (V)","titlePadding":13}},
       "y":{"field":"y","type":"quantitative","scale":{"domain":[0,1],"nice":false},"axis":null},
       "detail":{"field":"t"},"order":{"field":"i"}}},
     {"data":{"name":"fm"},"mark":{"type":"line","color":"#a2390c","strokeWidth":1.5,"opacity":0.85},
      "encoding":{
       "x":{"field":"x","type":"quantitative"},
       "y":{"field":"y","type":"quantitative"},
       "detail":{"field":"t"},"order":{"field":"i"}}}
    ]}
  ]}
 ],"center":true,"spacing":12},
 {"width":36,"height":468,
  "view":{"stroke":"#444","strokeWidth":1},
  "data":{"values":[{"lo":0,"hi":1}]},
  "layer":[
   {"mark":{"type":"rect","fill":{"gradient":"linear","x1":0,"y1":1,"x2":0,"y2":0,"stops":[{"offset":0,"color":"#00007f"},{"offset":0.125,"color":"#0000ff"},{"offset":0.375,"color":"#00ffff"},{"offset":0.625,"color":"#ffff00"},{"offset":0.875,"color":"#ff0000"},{"offset":1,"color":"#7f0000"}]}},
    "encoding":{
     "x":{"datum":0,"type":"quantitative","scale":{"domain":[0,1],"nice":false},"axis":null},
     "x2":{"datum":1},
     "y":{"field":"lo","type":"quantitative","scale":{"domain":[0,1],"nice":false},"axis":{"orient":"right","values":[0,0.1,0.2,0.3,0.4,0.5,0.6,0.7,0.8,0.9,1],"format":"~g","title":null,"labelFont":"Liberation Sans","labelFontWeight":"normal","labelFontSize":16,"labelColor":"#222","tickSize":-5,"tickWidth":1,"tickColor":"#333","labelPadding":15}},
     "y2":{"field":"hi"}}},
   {"mark":{"type":"rect","opacity":0},
    "encoding":{
     "x":{"datum":0,"type":"quantitative","axis":null},
     "x2":{"datum":1},
     "y":{"field":"lo","type":"quantitative","axis":{"orient":"left","values":[0,0.1,0.2,0.3,0.4,0.5,0.6,0.7,0.8,0.9,1],"labels":false,"title":null,"tickSize":-5,"tickWidth":1,"tickColor":"#333"}},
     "y2":{"field":"hi"}}}
  ],
  "resolve":{"axis":{"y":"independent"}}}
]
}
